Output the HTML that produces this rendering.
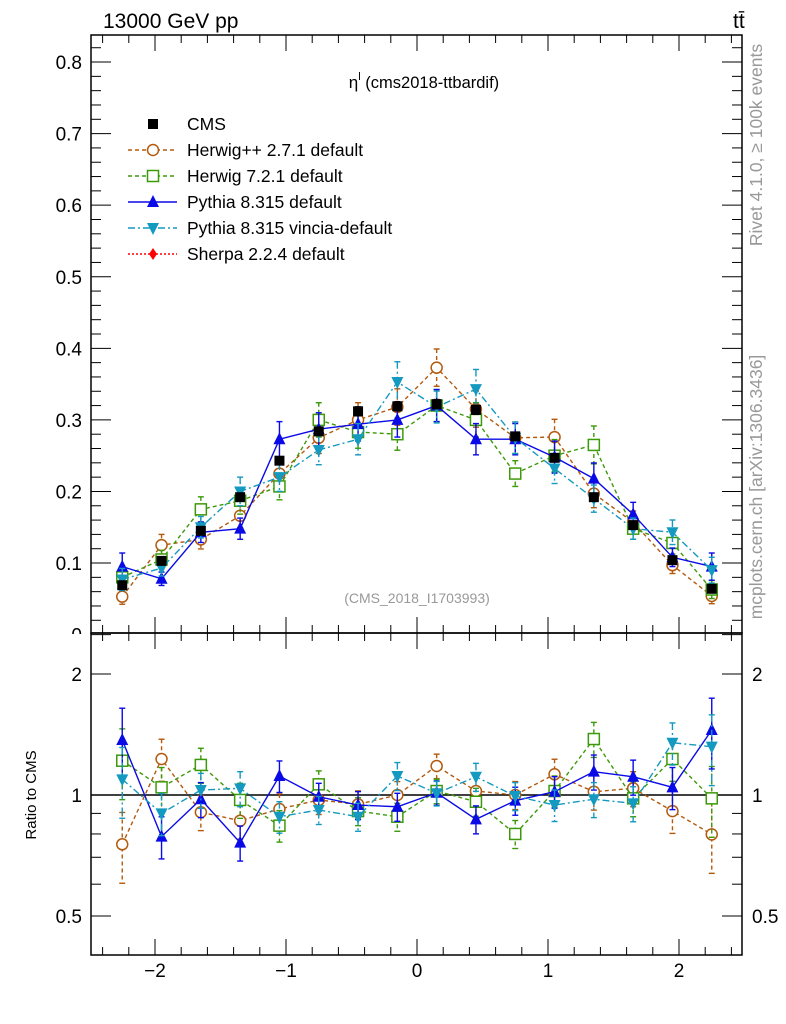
<!DOCTYPE html>
<html><head><meta charset="utf-8"><style>
html,body{margin:0;padding:0;background:#fff;}
svg{display:block;font-family:"Liberation Sans",sans-serif;}
</style></head><body>
<svg id="chart" width="786" height="1024" viewBox="0 0 786 1024" xmlns="http://www.w3.org/2000/svg">
<text x="103" y="28" font-size="21">13000 GeV pp</text>
<text x="733" y="28" font-size="21">tt̄</text>
<text x="424" y="88" font-size="17" text-anchor="middle">η<tspan font-size="11" dy="-8">l</tspan><tspan dy="8" font-size="16.5"> (cms2018-ttbardif)</tspan></text>
<text x="417" y="603" font-size="14" fill="#999" text-anchor="middle">(CMS_2018_I1703993)</text>
<text transform="translate(762,145) rotate(-90)" font-size="17.5" fill="#999" text-anchor="middle">Rivet 4.1.0, ≥ 100k events</text>
<text transform="translate(762,487) rotate(-90)" font-size="17.5" fill="#999" text-anchor="middle">mcplots.cern.ch [arXiv:1306.3436]</text>
<text transform="translate(36,795) rotate(-90)" font-size="15" text-anchor="middle">Ratio to CMS</text>
<g id="axes"></g>
<g id="marks"></g>
<g id="legend"></g>
<rect x="50" y="634" width="40" height="12" fill="#fff"/>
</svg>
<script>
const binCenters=[-2.25,-1.95,-1.65,-1.35,-1.05,-0.75,-0.45,-0.15,0.15,0.45,0.75,1.05,1.35,1.65,1.95,2.25];
const cmsValues=[0.069,0.103,0.145,0.192,0.243,0.284,0.312,0.319,0.322,0.314,0.277,0.247,0.192,0.153,0.104,0.064];
const herwigPPValues=[0.053,0.125,0.133,0.166,0.225,0.275,0.300,0.318,0.373,0.315,0.275,0.276,0.197,0.157,0.097,0.054];
const herwig7Values=[0.080,0.105,0.175,0.187,0.207,0.300,0.283,0.280,0.320,0.300,0.225,0.250,0.265,0.148,0.128,0.063];
const pythiaValues=[0.095,0.078,0.143,0.148,0.273,0.287,0.294,0.300,0.320,0.273,0.273,0.248,0.218,0.168,0.108,0.095];
const vinciaValues=[0.077,0.093,0.150,0.200,0.220,0.258,0.273,0.353,0.318,0.343,0.275,0.232,0.190,0.148,0.143,0.090];
const herwigPPRatio=[0.754,1.229,0.906,0.863,0.923,0.972,0.948,1.0,1.181,1.023,1.0,1.126,1.019,1.039,0.912,0.798];
const herwig7Ratio=[1.217,1.045,1.188,0.972,0.839,1.063,0.912,0.883,1.023,0.962,0.800,1.023,1.378,0.981,1.229,0.981];
const pythiaRatio=[1.370,0.788,0.976,0.761,1.115,0.990,0.944,0.935,1.013,0.870,0.968,1.019,1.143,1.110,1.045,1.451];
const vinciaRatio=[1.094,0.900,1.029,1.039,0.883,0.918,0.883,1.115,1.010,1.110,0.994,0.944,0.976,0.953,1.349,1.319];
const relErr=[0.2,0.12,0.1,0.1,0.09,0.08,0.08,0.08,0.07,0.08,0.08,0.09,0.1,0.1,0.12,0.2];
const cmsRelErr=[0.03,0.03,0.03,0.02,0.02,0.02,0.02,0.02,0.02,0.02,0.02,0.02,0.02,0.03,0.03,0.03];
const mainTicks=[0,0.1,0.2,0.3,0.4,0.5,0.6,0.7,0.8];
const mainTickLabels=["0","0.1","0.2","0.3","0.4","0.5","0.6","0.7","0.8"];
const xTicks=[-2,-1,0,1,2];
const xTickLabels=["−2","−1","0","1","2"];
const ratioTicks=[0.5,1,2];
const ratioTickLabels=["0.5","1","2"];

const NS="http://www.w3.org/2000/svg";
const L=91,R=742,T1=35,B1=633,B2=955;
const xs=v=>417+v*131;
const ym=v=>634.6-v*715.7;
const yr=v=>795-Math.log10(v)*402;
function mk(tag,attrs,parent){const e=document.createElementNS(NS,tag);for(const k in attrs)e.setAttribute(k,attrs[k]);parent.appendChild(e);return e;}
const axes=document.getElementById('axes'),marks=document.getElementById('marks'),leg=document.getElementById('legend');

let f=mk('rect',{x:L,y:T1,width:R-L,height:B1-T1,fill:'none',stroke:'#000','stroke-width':1.5},axes);

f=mk('rect',{x:L,y:B1,width:R-L,height:B2-B1,fill:'none',stroke:'#000','stroke-width':1.5},axes);

for(let i=-12;i<=12;i++){const v=i*0.2;const x=xs(v);if(x<L||x>R)continue;const maj=Math.abs(v-Math.round(v))<1e-6;const len=maj?16:8;
 [[T1,1],[B1,-1],[B1,1],[B2,-1]].forEach(([y0,d])=>mk('line',{x1:x,x2:x,y1:y0,y2:y0+d*len,stroke:'#000','stroke-width':1},axes));}
xTicks.forEach((v,i)=>{const t=mk('text',{x:xs(v),y:977,'font-size':19,'text-anchor':'middle'},axes);t.textContent=xTickLabels[i];
 });
for(let i=0;i<=41;i++){const v=i*0.02;const y=ym(v);if(y<T1||y>B1+2)continue;const maj=i%5==0;const len=maj?20:10;
 mk('line',{x1:L,x2:L+len,y1:y,y2:y,stroke:'#000'},axes);mk('line',{x1:R,x2:R-len,y1:y,y2:y,stroke:'#000'},axes);}
mainTicks.forEach((v,i)=>{const t=mk('text',{x:82,y:ym(v)+7,'font-size':19,'text-anchor':'end'},axes);t.textContent=mainTickLabels[i];
 });
[0.5,0.6,0.7,0.8,0.9,1,2].forEach(v=>{const y=yr(v);const maj=[0.5,1,2].includes(v);const len=maj?20:10;
 mk('line',{x1:L,x2:L+len,y1:y,y2:y,stroke:'#000'},axes);mk('line',{x1:R,x2:R-len,y1:y,y2:y,stroke:'#000'},axes);});
ratioTicks.forEach((v,i)=>{[[82,'end'],[752,'start']].forEach(([x,a])=>{const t=mk('text',{x:x,y:yr(v)+7,'font-size':19,'text-anchor':a},axes);t.textContent=ratioTickLabels[i];
 });});
let ref=mk('line',{x1:L,x2:R,y1:yr(1),y2:yr(1),stroke:'#000','stroke-width':1.5},axes);


function marker(g,type,x,y,c){
 if(type==='circle')mk('circle',{cx:x,cy:y,r:5.5,fill:'#fff',stroke:c,'stroke-width':1.5},g);
 else if(type==='square')mk('rect',{x:x-5.5,y:y-5.5,width:11,height:11,fill:'#fff',stroke:c,'stroke-width':1.5},g);
 else if(type==='up')mk('polygon',{points:`${x},${y-7} ${x-6},${y+5} ${x+6},${y+5}`,fill:c},g);
 else if(type==='down')mk('polygon',{points:`${x},${y+7} ${x-6},${y-5} ${x+6},${y-5}`,fill:c},g);
 else if(type==='diamond')mk('polygon',{points:`${x},${y-6} ${x-4},${y} ${x},${y+6} ${x+4},${y}`,fill:c},g);
 else if(type==='fsquare')mk('rect',{x:x-5,y:y-5,width:10,height:10,fill:c},g);
}
function series(name,vals,errs,yf,color,dash,type,line){
 const g=mk('g',{},marks);
 if(line){const pts=binCenters.map((x,i)=>xs(x)+','+yf(vals[i])).join(' ');
  mk('polyline',{points:pts,fill:'none',stroke:color,'stroke-width':1.4,'stroke-dasharray':dash},g);}
 binCenters.forEach((x,i)=>{const X=xs(x);const e=vals[i]*errs[i];const y1=yf(vals[i]+e),y2=yf(vals[i]-e);
  mk('line',{x1:X,x2:X,y1:y1,y2:y2,stroke:color,'stroke-width':1.4,'stroke-dasharray':dash},g);
  mk('line',{x1:X-3,x2:X+3,y1:y1,y2:y1,stroke:color,'stroke-width':1.4},g);
  mk('line',{x1:X-3,x2:X+3,y1:y2,y2:y2,stroke:color,'stroke-width':1.4},g);
  marker(g,type,X,yf(vals[i]),color);});
}
const HW='#b35a0f',H7='#3c9a0a',PY='#0a0ae6',VI='#1499c0';
series('herwigpp-series',herwigPPValues,relErr,ym,HW,'4,3','circle',true);
series('herwig7-series',herwig7Values,relErr,ym,H7,'4,3','square',true);
series('pythia-series',pythiaValues,relErr,ym,PY,'','up',true);
series('vincia-series',vinciaValues,relErr,ym,VI,'7,3,2,3','down',true);
series('cms-data',cmsValues,cmsRelErr,ym,'#000','','fsquare',false);
series('herwigpp-ratio',herwigPPRatio,relErr,yr,HW,'4,3','circle',true);
series('herwig7-ratio',herwig7Ratio,relErr,yr,H7,'4,3','square',true);
series('pythia-ratio',pythiaRatio,relErr,yr,PY,'','up',true);
series('vincia-ratio',vinciaRatio,relErr,yr,VI,'7,3,2,3','down',true);

const legNames=['CMS','Herwig++ 2.7.1 default','Herwig 7.2.1 default','Pythia 8.315 default','Pythia 8.315 vincia-default','Sherpa 2.2.4 default'];
const legColors=['#000',HW,H7,PY,VI,'#f00'];
const legTypes=['fsquare','circle','square','up','down','diamond'];
const legDash=[null,'4,3','4,3','','7,3,2,3','2,2'];
legNames.forEach((n,i)=>{const y=124+i*26;const g=mk('g',{},leg);
 
 if(legDash[i]!==null)mk('line',{x1:128,x2:177,y1:y,y2:y,stroke:legColors[i],'stroke-width':1.4,'stroke-dasharray':legDash[i]},g);
 marker(g,legTypes[i],153,y,legColors[i]);
 const t=mk('text',{x:187,y:y+6,'font-size':17.5},g);t.textContent=n;});
</script>
</body></html>
